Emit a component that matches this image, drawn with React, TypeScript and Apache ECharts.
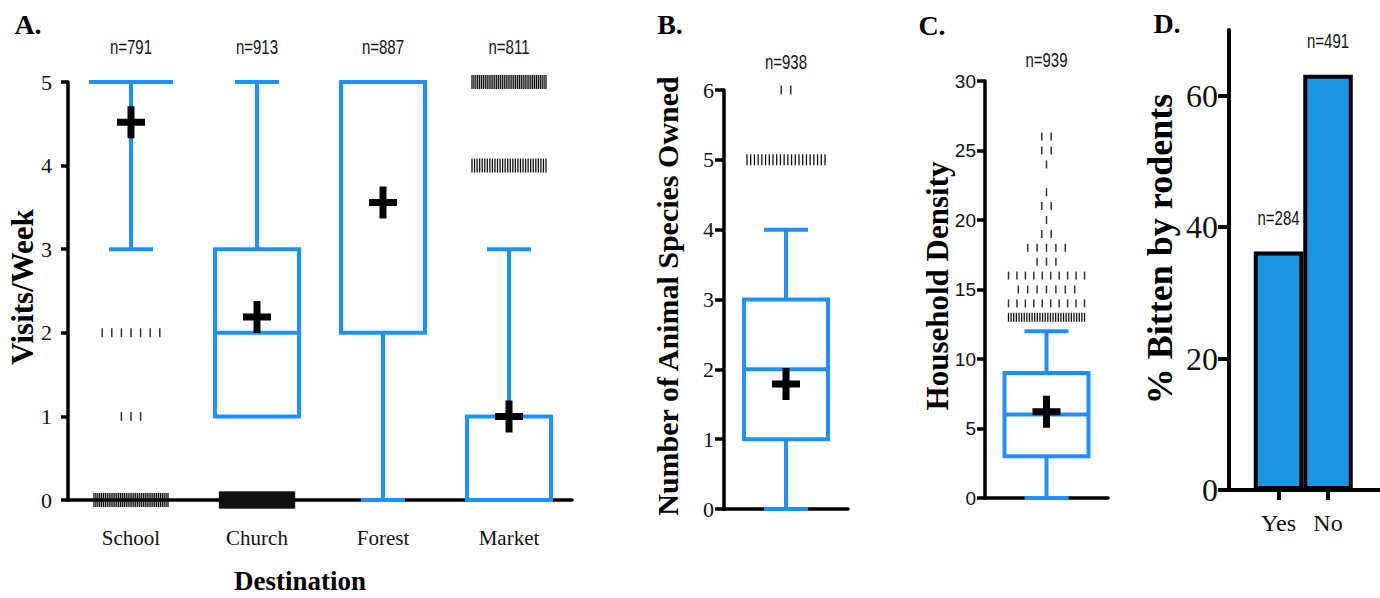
import React, { useEffect, useRef } from 'react';
import * as echarts from 'echarts';

// ---------- Panel A: visits per week by destination ----------
const destinations = ['School', 'Church', 'Forest', 'Market'];
const destinationN = [791, 913, 887, 811];
// [min, Q1, median, Q3, max]
const visitsBox = [
  [3, 5, 5, 5, 5],
  [1, 1, 2, 3, 5],
  [0, 2, 5, 5, 5],
  [0, 0, 0, 1, 3],
];
const visitsMean = [4.52, 2.19, 3.56, 1.0];
// [categoryIndex, value, number of visible marks]
const visitsOutliers = [
  [0, 2, 7],
  [0, 1, 3],
  [0, 0, 40],
  [1, 0, 60],
  [3, 5, 40],
  [3, 4, 30],
];

// ---------- Panel B: number of animal species owned ----------
const speciesN = [938];
const speciesBox = [[0, 1, 2, 3, 4]];
const speciesMean = [1.79];
const speciesOutliers = [
  [0, 5, 22],
  [0, 6, 2],
];

// ---------- Panel C: household density ----------
const densityN = [939];
const densityBox = [[0, 3, 6, 9, 12]];
const densityMean = [6.2];
const densityOutliers = [
  [0, 13, 30],
  [0, 14, 10],
  [0, 15, 7],
  [0, 16, 10],
  [0, 17, 3],
  [0, 18, 5],
  [0, 19, 2],
  [0, 20, 1],
  [0, 21, 2],
  [0, 22, 1],
  [0, 24, 1],
  [0, 25, 2],
  [0, 26, 2],
];

// ---------- Panel D: % bitten by rodents ----------
const bittenCategories = ['Yes', 'No'];
const bittenPercent = [36.3, 63.2];
const bittenN = [284, 491];
const bittenTicks = [0, 20, 40, 60];

// ---------- styles ----------
const SERIF = "'Liberation Serif', 'DejaVu Serif', serif";
const SANS = "'Liberation Sans', Arial, sans-serif";
const BLUE = '#1E90FF';
const BAR_BLUE = '#1B96E2';
const CROSS = 'path://M10.5,0H17.5V12.5H28V19.5H17.5V32H10.5V19.5H0V12.5H10.5Z';
const BOX_W = 84;
const CAP_W = 44;

function boxRender(params: any, api: any) {
  const x = api.value(0);
  const mn = api.value(1);
  const q1 = api.value(2);
  const md = api.value(3);
  const q3 = api.value(4);
  const mx = api.value(5);
  const cx = api.coord([x, md])[0];
  const y = (v: number) => api.coord([x, v])[1];
  const hw = BOX_W / 2;
  const cw = CAP_W / 2;
  const style = { stroke: BLUE, lineWidth: 4, fill: 'none' };
  const children: any[] = [];
  if (mx > q3) {
    children.push({ type: 'line', shape: { x1: cx, y1: y(q3), x2: cx, y2: y(mx) }, style });
    children.push({ type: 'line', shape: { x1: cx - cw, y1: y(mx), x2: cx + cw, y2: y(mx) }, style });
  }
  if (mn < q1) {
    children.push({ type: 'line', shape: { x1: cx, y1: y(q1), x2: cx, y2: y(mn) }, style });
    children.push({ type: 'line', shape: { x1: cx - cw, y1: y(mn), x2: cx + cw, y2: y(mn) }, style });
  }
  children.push({
    type: 'polygon',
    shape: { points: [[cx - hw, y(q3)], [cx + hw, y(q3)], [cx + hw, y(q1)], [cx - hw, y(q1)]] },
    style: { ...style, lineJoin: 'miter' },
  });
  children.push({ type: 'line', shape: { x1: cx - hw, y1: y(md), x2: cx + hw, y2: y(md) }, style });
  return { type: 'group', children };
}

function outlierRender(h: number, hDense: number, step: number, maxHalf: number) {
  return (params: any, api: any) => {
    const x = api.value(0);
    const v = api.value(1);
    const count = api.value(2);
    const [cx, cy] = api.coord([x, v]);
    const dense = count > 12;
    const solid = count >= 50;
    const half = Math.min(((count - 1) * step) / 2, maxHalf);
    const th = solid ? hDense + 3 : dense ? hDense : h;
    const children: any[] = [];
    for (let k = 0; k < count; k++) {
      const px = count === 1 ? cx : cx - half + (2 * half * k) / (count - 1);
      children.push({
        type: 'line',
        shape: { x1: px, y1: cy - th / 2, x2: px, y2: cy + th / 2 },
        style: { stroke: dense ? '#111' : '#333', lineWidth: solid ? 2.4 : dense ? 1.3 : 1.5 },
      });
    }
    return { type: 'group', children };
  };
}

function nLabelRender(offset: number) {
  return (params: any, api: any) => {
    const [cx, cy] = api.coord([api.value(0), api.value(1)]);
    return {
      type: 'text',
      x: cx,
      y: cy - offset,
      scaleX: 0.75,
      style: {
        text: 'n=' + api.value(2),
        fontFamily: SANS,
        fontSize: 20,
        fill: '#111',
        align: 'center',
        verticalAlign: 'middle',
      },
    };
  };
}

const axisLine = { onZero: false, lineStyle: { color: '#000', width: 3.5 } };

function yAxisCfg(grid: number, min: number, max: number, interval: number, tickLen: number, fontSize: number, margin: number, family: string) {
  return {
    gridIndex: grid,
    type: 'value',
    min,
    max,
    interval,
    axisLine,
    axisTick: { show: true, length: tickLen, lineStyle: { color: '#000', width: 3.5 } },
    axisLabel: { fontFamily: family, fontSize, color: '#111', margin },
    splitLine: { show: false },
  };
}

function hiddenXAxis(grid: number) {
  return {
    gridIndex: grid,
    type: 'value',
    min: -0.5,
    max: 0.5,
    axisLine,
    axisTick: { show: false },
    axisLabel: { show: false },
    splitLine: { show: false },
  };
}

function boxPanel(axis: number, box: number[][], mean: number[], outliers: number[][], n: number[], top: number, nOffset: number, oStyle: number[]) {
  return [
    {
      type: 'custom',
      xAxisIndex: axis,
      yAxisIndex: axis,
      silent: true,
      z: 3,
      data: box.map((b, i) => [i, ...b]),
      encode: { x: 0, y: [1, 2, 3, 4, 5] },
      renderItem: boxRender,
    },
    {
      type: 'custom',
      xAxisIndex: axis,
      yAxisIndex: axis,
      silent: true,
      z: 4,
      data: outliers,
      encode: { x: 0, y: 1 },
      renderItem: outlierRender(oStyle[0], oStyle[1], oStyle[2], oStyle[3]),
    },
    {
      type: 'scatter',
      xAxisIndex: axis,
      yAxisIndex: axis,
      silent: true,
      z: 5,
      symbol: CROSS,
      symbolSize: [28, 32],
      itemStyle: { color: '#000', opacity: 1 },
      data: mean.map((m, i) => [i, m]),
    },
    {
      type: 'custom',
      xAxisIndex: axis,
      yAxisIndex: axis,
      silent: true,
      clip: false,
      z: 5,
      data: n.map((v, i) => [i, top, v]),
      encode: { x: 0, y: 1 },
      renderItem: nLabelRender(nOffset),
    },
  ];
}

function titleText(text: string, x: number, y: number, size: number, rotate = false) {
  return {
    type: 'text',
    x,
    y,
    rotation: rotate ? Math.PI / 2 : 0,
    style: {
      text,
      fontFamily: SERIF,
      fontWeight: 'bold',
      fontSize: size,
      fill: '#000',
      align: 'center',
      verticalAlign: 'middle',
    },
  };
}

export default function App() {
  const ref = useRef<HTMLDivElement>(null);

  useEffect(() => {
    if (!ref.current) return;
    const chart = echarts.init(ref.current, null, { renderer: 'svg' });
    const option: any = {
      animation: false,
      backgroundColor: '#fff',
      grid: [
        { left: 68, top: 82, width: 504, height: 418 },
        { left: 724, top: 90, width: 124, height: 419 },
        { left: 985, top: 81, width: 123, height: 417 },
        { left: 1229, top: 30, width: 151, height: 460 },
      ],
      xAxis: [
        {
          gridIndex: 0,
          type: 'value',
          min: -0.5,
          max: 3.5,
          axisLine,
          axisTick: { show: false },
          axisLabel: {
            customValues: [0, 1, 2, 3],
            formatter: (v: number) => destinations[Math.round(v)] ?? '',
            fontFamily: SERIF,
            fontSize: 21,
            color: '#111',
            margin: 27,
          },
          splitLine: { show: false },
        },
        hiddenXAxis(1),
        hiddenXAxis(2),
        {
          gridIndex: 3,
          type: 'value',
          min: 0,
          max: 3.05,
          axisLine: { onZero: false, lineStyle: { color: '#000', width: 4 } },
          axisTick: { show: true, customValues: [1, 2], length: 10, lineStyle: { color: '#000', width: 4 } },
          axisLabel: {
            customValues: [1, 2],
            formatter: (v: number) => bittenCategories[Math.round(v) - 1] ?? '',
            fontFamily: SERIF,
            fontSize: 24,
            color: '#111',
            margin: 21,
          },
          splitLine: { show: false },
        },
      ],
      yAxis: [
        yAxisCfg(0, 0, 5, 1, 7, 22, 16, SERIF),
        yAxisCfg(1, 0, 6, 1, 9, 22, 10, SERIF),
        yAxisCfg(2, 0, 30, 5, 8, 19, 9, SANS),
        {
          gridIndex: 3,
          type: 'value',
          min: 0,
          max: 70,
          axisLine: { onZero: false, lineStyle: { color: '#000', width: 4 } },
          axisTick: { show: true, customValues: bittenTicks, length: 11, lineStyle: { color: '#000', width: 4 } },
          axisLabel: { customValues: bittenTicks, fontFamily: SERIF, fontSize: 32, color: '#111', margin: 11 },
          splitLine: { show: false },
        },
      ],
      series: [
        ...boxPanel(0, visitsBox, visitsMean, visitsOutliers, destinationN, 5, 35, [9, 14, 9.6, 37]),
        ...boxPanel(1, speciesBox, speciesMean, speciesOutliers, speciesN, 6, 28, [9, 11, 9.5, 39]),
        ...boxPanel(2, densityBox, densityMean, densityOutliers, densityN, 30, 21, [8, 9, 9.4, 38]),
        {
          type: 'bar',
          xAxisIndex: 3,
          yAxisIndex: 3,
          silent: true,
          barWidth: 49.5,
          itemStyle: { color: BAR_BLUE, borderColor: '#000', borderWidth: 4 },
          data: bittenPercent.map((p, i) => [i + 1, p]),
        },
        {
          type: 'custom',
          xAxisIndex: 3,
          yAxisIndex: 3,
          silent: true,
          clip: false,
          z: 5,
          data: bittenPercent.map((p, i) => [i + 1, p, bittenN[i]]),
          encode: { x: 0, y: 1 },
          renderItem: nLabelRender(33),
        },
      ],
      graphic: [
        titleText('A.', 28, 24, 28),
        titleText('B.', 670, 24, 28),
        titleText('C.', 932, 25, 28),
        titleText('D.', 1167, 23, 28),
        titleText('Visits/Week', 22, 287, 31, true),
        titleText('Destination', 300, 581, 27),
        titleText('Number of Animal Species Owned', 667, 296, 30, true),
        titleText('Household Density', 937, 286, 31, true),
        titleText('% Bitten by rodents', 1160, 249, 36, true),
      ],
    };
    chart.setOption(option);
    return () => chart.dispose();
  }, []);

  return (
    <div
      ref={ref}
      style={{ position: 'fixed', left: 0, top: 0, width: 1380, height: 598, background: '#fff' }}
    />
  );
}
